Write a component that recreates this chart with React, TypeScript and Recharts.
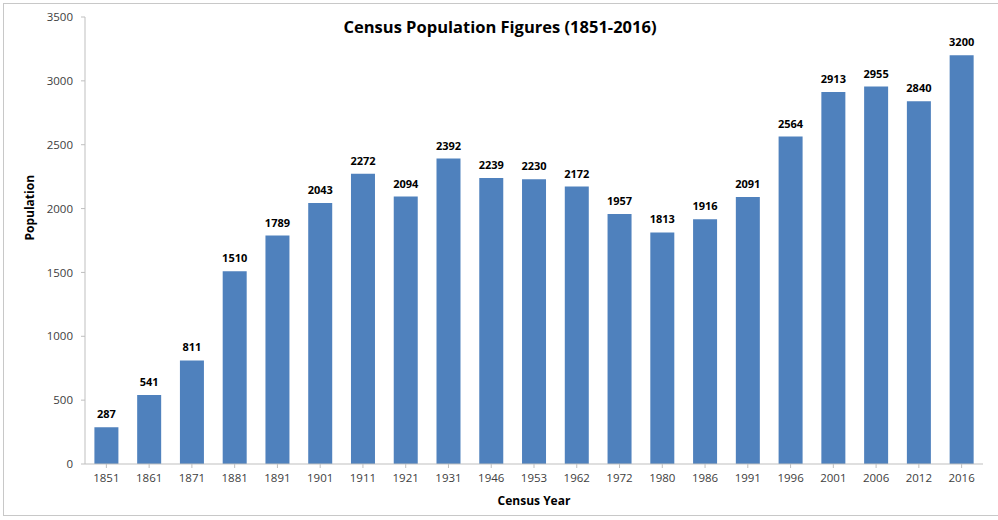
import React from 'react';
import { BarChart, Bar, XAxis, YAxis, LabelList } from 'recharts';

const years = [
  '1851', '1861', '1871', '1881', '1891', '1901', '1911', '1921', '1931', '1946', '1953',
  '1962', '1972', '1980', '1986', '1991', '1996', '2001', '2006', '2012', '2016',
];
const population = [
  287, 541, 811, 1510, 1789, 2043, 2272, 2094, 2392, 2239, 2230,
  2172, 1957, 1813, 1916, 2091, 2564, 2913, 2955, 2840, 3200,
];
const yTicks = [0, 500, 1000, 1500, 2000, 2500, 3000, 3500];

const data = years.map((year, i) => ({ year, population: population[i] }));

const font = '"Open Sans", "Liberation Sans", sans-serif';
const axisGray = '#bfbfbf';

const App: React.FC = () => {
  return (
    <div
      style={{
        position: 'absolute',
        left: 0,
        top: 0,
        width: 998,
        height: 520,
        background: '#fff',
        fontFamily: font,
      }}
    >
      {/* frame */}
      <div
        style={{
          position: 'absolute',
          left: 3,
          top: 3,
          width: 1000,
          height: 513,
          border: '1px solid #c8c8c8',
          boxSizing: 'border-box',
        }}
      />
      <div
        style={{
          position: 'absolute',
          left: 0,
          top: 15,
          width: 1000,
          textAlign: 'center',
          fontSize: 16.5,
          fontWeight: 700,
          color: '#000',
        }}
      >
        Census Population Figures (1851-2016)
      </div>
      <BarChart
        width={998}
        height={520}
        data={data}
        margin={{ top: 17, right: 15, left: 0, bottom: 8 }}
        barCategoryGap="22%"
      >
        <XAxis
          dataKey="year"
          height={48}
          interval={0}
          stroke={axisGray}
          tickSize={4}
          tickMargin={6}
          tick={{ fill: '#404040', fontSize: 11.5, fontFamily: font }}
          label={{
            value: 'Census Year',
            position: 'insideBottom',
            offset: 7,
            fill: '#000',
            fontSize: 12,
            fontWeight: 700,
            fontFamily: font,
          }}
        />
        <YAxis
          width={85}
          domain={[0, 3500]}
          ticks={yTicks}
          interval={0}
          stroke={axisGray}
          tickSize={4}
          tickMargin={8}
          tick={{ fill: '#404040', fontSize: 11.5, fontFamily: font }}
          label={{
            value: 'Population',
            angle: -90,
            position: 'insideLeft',
            offset: 30,
            fill: '#000',
            fontSize: 12,
            fontWeight: 700,
            fontFamily: font,
          }}
        />
        <Bar dataKey="population" fill="#4F81BD" isAnimationActive={false}>
          <LabelList
            dataKey="population"
            position="top"
            offset={9}
            fill="#000"
            fontSize={11}
            fontWeight={700}
            fontFamily={font}
          />
        </Bar>
      </BarChart>
    </div>
  );
};

export default App;
